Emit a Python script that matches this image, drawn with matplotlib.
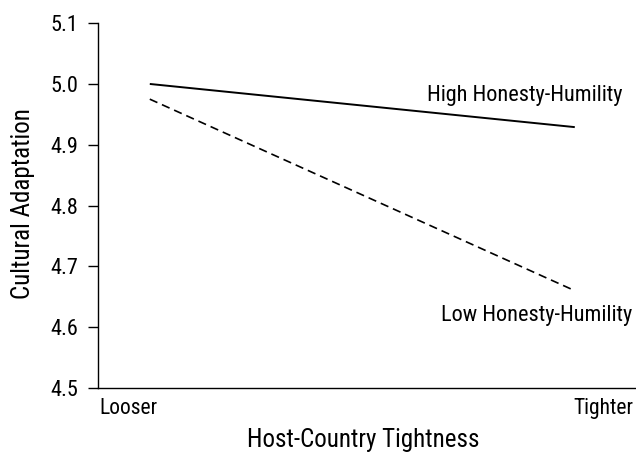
import matplotlib
matplotlib.use("Agg")
import matplotlib.pyplot as plt
from matplotlib import font_manager

# data
x_levels = [0, 1]
x_labels = ["Looser", "Tighter"]
high_hh = [5.00, 4.929]
low_hh = [4.975, 4.660]
y_ticks = [4.5, 4.6, 4.7, 4.8, 4.9, 5.0, 5.1]

# prefer a condensed face if one is around
names = {f.name for f in font_manager.fontManager.ttflist}
family = ["Liberation Sans", "DejaVu Sans"]
for cand in ["Roboto Condensed", "Open Sans Condensed", "Liberation Sans Narrow"]:
    if cand in names:
        family = [cand, "DejaVu Sans"]
        break
plt.rcParams["font.family"] = family

fig = plt.figure(figsize=(6.36, 4.54), dpi=100)
ax = fig.add_axes([0.154, 0.1454, 0.846, 0.8036])

ax.plot(x_levels, high_hh, color="black", lw=1.4, solid_capstyle="butt")
ax.plot(x_levels, low_hh, color="black", lw=1.2, dashes=(5, 3))

ax.set_xlim(-0.122, 1.144)
ax.set_ylim(4.5, 5.1)
ax.set_yticks(y_ticks)
ax.set_yticklabels([f"{v:.1f}" for v in y_ticks], fontsize=16)
ax.set_xticks([])
ax.tick_params(axis="y", length=7, width=1, pad=7)

for s in ["top", "right"]:
    ax.spines[s].set_visible(False)
ax.spines["left"].set_linewidth(1)
ax.spines["bottom"].set_linewidth(1)

ax.text(0.003, -0.057, x_labels[0], transform=ax.transAxes, ha="left", va="center", fontsize=15.5)
ax.text(0.995, -0.057, x_labels[1], transform=ax.transAxes, ha="right", va="center", fontsize=15.5)

ax.annotate("High Honesty-Humility", (x_levels[1], high_hh[1]), textcoords="offset pixels",
            xytext=(48, 32), ha="right", va="center", fontsize=16)
ax.annotate("Low Honesty-Humility", (x_levels[1], low_hh[1]), textcoords="offset pixels",
            xytext=(57, -25), ha="right", va="center", fontsize=16)

fig.text(23 / 636, 1 - 204 / 454, "Cultural Adaptation", rotation=90,
         ha="center", va="center", fontsize=18)
fig.text(363 / 636, 1 - 440 / 454, "Host-Country Tightness",
         ha="center", va="center", fontsize=18)

fig.savefig("out.png", dpi=100)
